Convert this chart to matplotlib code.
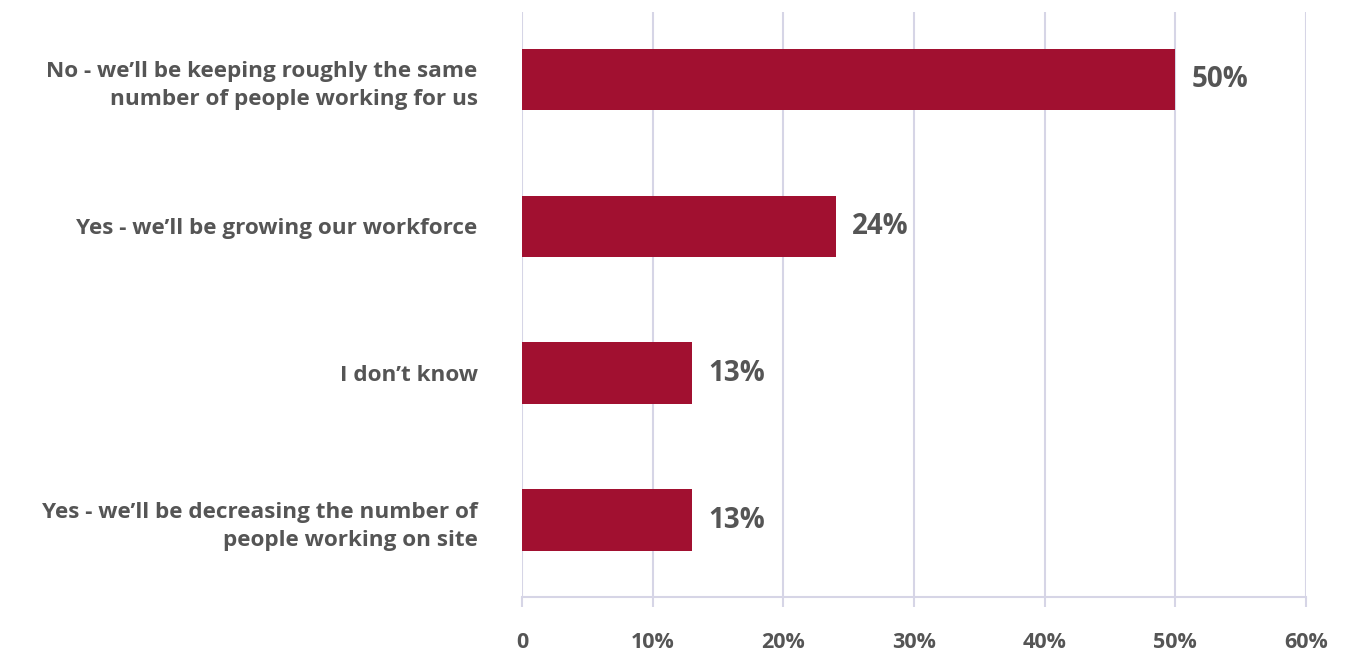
import matplotlib.pyplot as plt
from matplotlib.ticker import FuncFormatter

categories = [
    "No - we\u2019ll be keeping roughly the same\nnumber of people working for us",
    "Yes - we\u2019ll be growing our workforce",
    "I don\u2019t know",
    "Yes - we\u2019ll be decreasing the number of\npeople working on site",
]
values = [50, 24, 13, 13]
x_ticks = [0, 10, 20, 30, 40, 50, 60]

bar_color = "#A11030"
grid_color = "#D6D5E6"
text_color = "#555555"

plt.rcParams["font.family"] = ["Open Sans", "DejaVu Sans"]

fig = plt.figure(figsize=(13.66, 6.57), dpi=100)
ax = fig.add_axes([0.3821, 0.0913, 0.5740, 0.8904])

y = list(range(len(categories)))
ax.barh(y, values, height=0.42, color=bar_color, zorder=3)

for yi, v in zip(y, values):
    ax.annotate(f"{v}%", xy=(v, yi), xytext=(12, 0), textcoords="offset points",
                ha="left", va="center", fontsize=20, fontweight="bold",
                color=text_color)

ax.set_ylim(3.524, -0.46)
ax.set_xlim(0, 60)
ax.set_yticks(y)
ax.set_yticklabels(categories, fontsize=16.2, fontweight="bold",
                   color=text_color, linespacing=1.45)
ax.tick_params(axis="y", length=0, pad=32)

ax.set_xticks(x_ticks)
ax.xaxis.set_major_formatter(FuncFormatter(lambda v, _: "0" if v == 0 else f"{v:.0f}%"))
ax.tick_params(axis="x", length=7, width=1.5, color=grid_color, pad=18,
               labelsize=15.5, labelcolor=text_color)
for lbl in ax.get_xticklabels():
    lbl.set_fontweight("bold")

ax.grid(axis="x", color=grid_color, linewidth=1.5, zorder=0)
for side in ["top", "right", "left"]:
    ax.spines[side].set_visible(False)
ax.spines["bottom"].set_color(grid_color)
ax.spines["bottom"].set_linewidth(1.5)

fig.savefig("out.png", dpi=100)
